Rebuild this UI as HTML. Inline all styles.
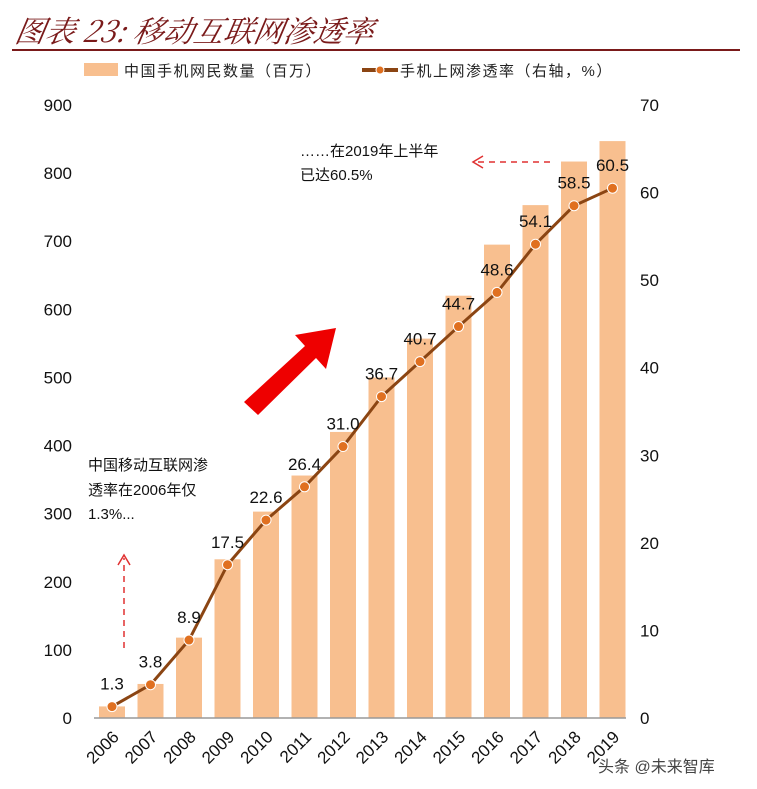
<!DOCTYPE html>
<html><head><meta charset="utf-8"><style>
body{margin:0;background:#fff;width:757px;height:784px;overflow:hidden;font-family:"Liberation Sans","Noto Sans CJK SC",sans-serif}
</style></head><body>
<svg width="757" height="784" xmlns="http://www.w3.org/2000/svg">
<text x="14" y="42" font-family="'Noto Serif CJK SC',serif" font-style="italic" font-size="30" fill="#7a1a1a" transform="skewX(-10) translate(7,0)">图表 23:  移动互联网渗透率</text>
<line x1="12" y1="50" x2="740" y2="50" stroke="#7a1a1a" stroke-width="2"/>
<g font-size="15" fill="#222">
<rect x="84" y="63" width="34" height="13" fill="#f8bf8f"/>
<text x="124" y="76" letter-spacing="1.5">中国手机网民数量（百万）</text>
<line x1="362" y1="70" x2="398" y2="70" stroke="#8b4513" stroke-width="4"/>
<circle cx="380" cy="70" r="4" fill="#e07020" stroke="#fff"/>
<text x="400" y="76" letter-spacing="1.5">手机上网渗透率（右轴，%）</text>
</g>
<g id="bars"></g><g id="axes"></g><g id="line"></g>
<g font-size="15" fill="#111">
<text x="300" y="156">……在2019年上半年</text>
<text x="300" y="180">已达60.5%</text>
<text x="88" y="470">中国移动互联网渗</text>
<text x="88" y="495">透率在2006年仅</text>
<text x="88" y="519">1.3%...</text>
<line x1="124" y1="648" x2="124" y2="558" stroke="#e03030" stroke-width="1.5" stroke-dasharray="6,5"/>
<path d="M118,565 L124,555 L130,565" fill="none" stroke="#e03030" stroke-width="1.5"/>
<line x1="550" y1="162" x2="475" y2="162" stroke="#e03030" stroke-width="1.5" stroke-dasharray="6,5"/>
<path d="M483,156 L473,162 L483,168" fill="none" stroke="#e03030" stroke-width="1.5"/>
<polygon points="244,402 305,346 295,335 336,328 326,369 316,358 258,415" fill="#ee0000"/>
</g>
<text x="598" y="772" font-size="16" fill="#444">头条 @未来智库</text>
</svg>
<script>
const years=["2006","2007","2008","2009","2010","2011","2012","2013","2014","2015","2016","2017","2018","2019"];
const users=[17,50,118,233,303,356,420,500,557,620,695,753,817,847];
const rate=[1.3,3.8,8.9,17.5,22.6,26.4,31.0,36.7,40.7,44.7,48.6,54.1,58.5,60.5];
const leftTicks=[0,100,200,300,400,500,600,700,800,900];
const rightTicks=[0,10,20,30,40,50,60,70];
const NS="http://www.w3.org/2000/svg";
const y0=718,yTop=105;
const yL=v=>y0-(v/900)*(y0-yTop);
const yR=v=>y0-(v/70)*(y0-yTop);
const xC=i=>112+i*38.5;
function mk(t,a,p){const e=document.createElementNS(NS,t);for(const k in a)e.setAttribute(k,a[k]);p.appendChild(e);return e;}
const bars=document.getElementById('bars'),axes=document.getElementById('axes'),line=document.getElementById('line');
users.forEach((v,i)=>{const r=mk('rect',{x:xC(i)-13,y:yL(v),width:26,height:y0-yL(v),fill:'#f8bf8f'},bars);

});
const ax=mk('line',{x1:94,y1:y0,x2:626,y2:y0,stroke:'#999','stroke-width':1.5},axes);


leftTicks.forEach(v=>{const t=mk('text',{x:72,y:yL(v)+6,'text-anchor':'end','font-size':17,fill:'#111'},axes);t.textContent=v;

});
rightTicks.forEach(v=>{const t=mk('text',{x:640,y:yR(v)+6,'font-size':17,fill:'#111'},axes);t.textContent=v;

});
years.forEach((y,i)=>{const t=mk('text',{x:xC(i)+8,y:738,'text-anchor':'end','font-size':17,fill:'#111',transform:`rotate(-45 ${xC(i)+8} 738)`},axes);t.textContent=y;

});
let d='';rate.forEach((v,i)=>{d+=(i?'L':'M')+xC(i)+','+yR(v);});
const p=mk('path',{d:d,fill:'none',stroke:'#8b4513','stroke-width':3,'stroke-linejoin':'round'},line);


rate.forEach((v,i)=>{const c=mk('circle',{cx:xC(i),cy:yR(v),r:5,fill:'#e07020',stroke:'#fff','stroke-width':1},line);


const t=mk('text',{x:xC(i),y:yR(v)-17,'text-anchor':'middle','font-size':17,fill:'#111'},line);t.textContent=v.toFixed(1);

});
</script>
</body></html>
